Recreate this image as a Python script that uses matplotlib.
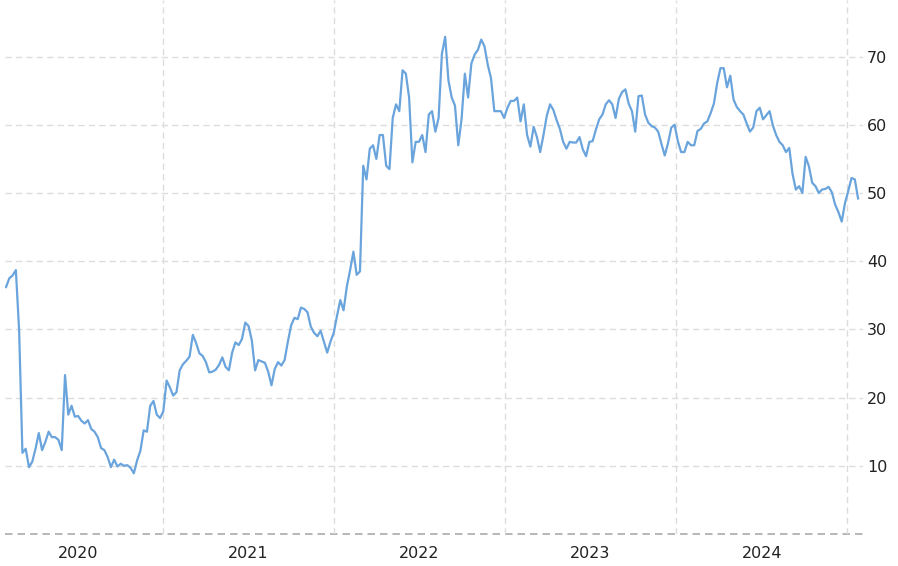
import matplotlib
matplotlib.use("Agg")
import matplotlib.pyplot as plt
import matplotlib.dates as mdates
import pandas as pd

start_date = "2020-01-31"
end_date = "2025-01-24"
values = [
    36.2, 37.5, 37.9, 38.7, 29.8, 11.9, 12.5, 9.8, 10.6, 12.5,
    14.8, 12.3, 13.5, 15.0, 14.2, 14.2, 13.8, 12.3, 23.3, 17.5,
    18.8, 17.2, 17.3, 16.6, 16.2, 16.7, 15.4, 15.0, 14.2, 12.6,
    12.3, 11.3, 9.8, 10.9, 9.9, 10.3, 10.0, 10.1, 9.7, 8.9,
    10.8, 12.2, 15.2, 15.0, 18.8, 19.5, 17.5, 17.0, 18.0, 22.5,
    21.5, 20.3, 20.8, 24.0, 24.9, 25.4, 26.0, 29.2, 28.0, 26.5,
    26.1, 25.2, 23.7, 23.8, 24.1, 24.8, 25.9, 24.5, 24.0, 26.6,
    28.1, 27.7, 28.6, 31.0, 30.5, 28.4, 24.0, 25.5, 25.3, 25.1,
    23.8, 21.8, 24.2, 25.2, 24.7, 25.5, 28.2, 30.6, 31.7, 31.5,
    33.2, 33.0, 32.5, 30.4, 29.5, 29.0, 29.8, 28.2, 26.6, 28.2,
    29.5, 32.0, 34.3, 32.8, 36.3, 38.7, 41.4, 38.0, 38.5, 54.0,
    52.0, 56.5, 57.0, 55.0, 58.5, 58.5, 54.0, 53.5, 61.0, 63.0,
    62.0, 68.0, 67.5, 64.0, 54.5, 57.5, 57.5, 58.5, 56.0, 61.5,
    62.0, 59.0, 61.0, 70.4, 72.9, 66.5, 64.0, 62.8, 57.0, 60.8,
    67.5, 64.0, 69.0, 70.3, 71.0, 72.5, 71.5, 68.8, 66.8, 62.0,
    62.0, 62.0, 61.0, 62.5, 63.5, 63.5, 64.0, 60.5, 63.0, 58.5,
    56.8, 59.7, 58.2, 56.0, 58.5, 61.3, 63.0, 62.2, 60.7, 59.4,
    57.5, 56.5, 57.5, 57.4, 57.4, 58.2, 56.4, 55.4, 57.5, 57.6,
    59.3, 60.8, 61.5, 63.0, 63.6, 63.0, 61.0, 63.8, 64.8, 65.2,
    63.1, 62.0, 59.0, 64.2, 64.3, 61.5, 60.3, 59.8, 59.6, 59.0,
    57.2, 55.5, 57.3, 59.6, 60.0, 57.6, 56.0, 56.0, 57.5, 57.0,
    57.0, 59.1, 59.4, 60.2, 60.5, 61.7, 63.1, 66.1, 68.3, 68.3,
    65.5, 67.2, 63.7, 62.6, 62.0, 61.5, 60.2, 59.0, 59.6, 62.0,
    62.5, 60.8, 61.4, 62.0, 59.9, 58.5, 57.5, 57.0, 56.0, 56.6,
    52.8, 50.5, 51.0, 50.0, 55.3, 53.9, 51.5, 51.0, 50.0, 50.5,
    50.6, 50.9, 50.1, 48.3, 47.2, 45.8, 48.5, 50.3, 52.2, 52.0, 49.2,
]
years = [2020, 2021, 2022, 2023, 2024]
y_ticks = [10, 20, 30, 40, 50, 60, 70]

dates = pd.date_range(start_date, end_date, freq="W-FRI")

fig = plt.figure(figsize=(8.98, 5.66), dpi=100)
ax = fig.add_axes([5 / 898, 32 / 566, 858 / 898, 534 / 566])

grid_color = "#dcdcdc"
dash = (0, (4.5, 3))

ax.plot(dates, values, color="#6aa4dc", lw=1.6, solid_joinstyle="round", zorder=3)

base = pd.Timestamp("2020-01-01")
ax.set_xlim(base + pd.Timedelta(days=27.8), base + pd.Timedelta(days=1860.5))
ax.set_ylim(0, 78.3)

# vertical grid at year boundaries
boundaries = [pd.Timestamp(f"{y + 1}-01-01") for y in years]
ax.set_xticks(boundaries)
ax.set_xticklabels([""] * len(boundaries))
mids = [pd.Timestamp(f"{y}-07-02") for y in years]
ax.set_xticks(mids, minor=True)
ax.set_xticklabels([str(y) for y in years], minor=True)
ax.tick_params(axis="x", which="both", length=0, pad=9, labelsize=11.5, colors="#222222")

ax.yaxis.tick_right()
ax.set_yticks(y_ticks)
ax.set_yticklabels([str(v) for v in y_ticks])
ax.tick_params(axis="y", length=0, pad=3, labelsize=11.5, colors="#222222")

ax.grid(True, which="major", axis="both", color=grid_color, lw=1.0, linestyle=dash, zorder=0)
ax.axhline(0, color="#aaaaaa", lw=1.2, linestyle=dash, zorder=1, clip_on=False)

for s in ax.spines.values():
    s.set_visible(False)

fig.savefig("out.png", dpi=100)
